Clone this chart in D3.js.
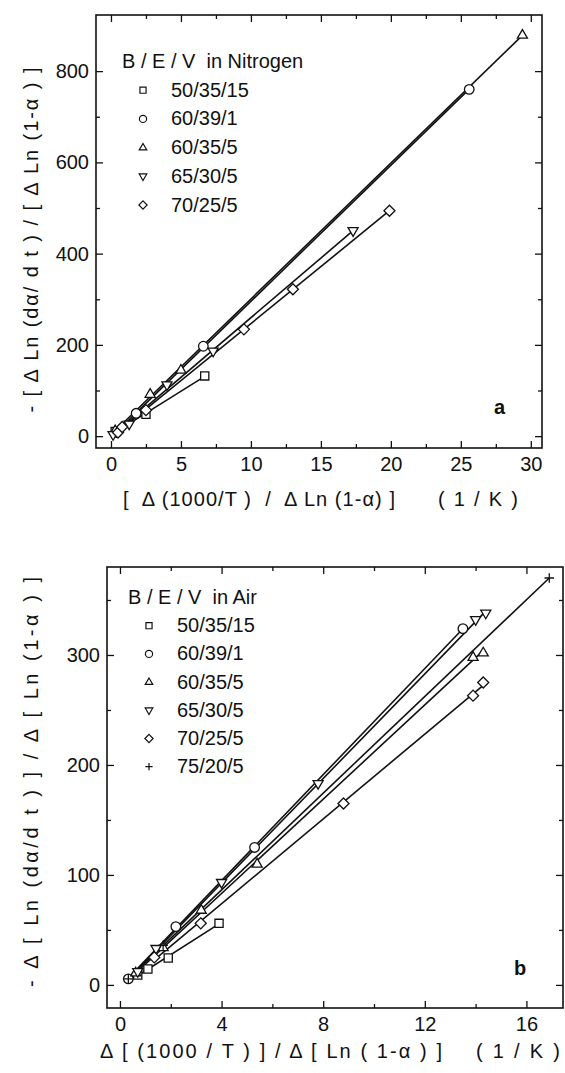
<!DOCTYPE html>
<html>
<head>
<meta charset="utf-8">
<script src="https://cdn.jsdelivr.net/npm/d3@7"></script>
<style>
  body { margin: 0; background: #fff; }
  text { font-family: "Liberation Sans", Arial, sans-serif; fill: #111; white-space: pre; }
</style>
</head>
<body>
<svg id="fig" width="565" height="1073"></svg>
<script>
// series names and marker shapes (same order in both panels)
const seriesLabels = ['50/35/15', '60/39/1', '60/35/5', '65/30/5', '70/25/5', '75/20/5'];
const seriesShapes = ['square', 'circle', 'triangle', 'triangleDown', 'diamond', 'plus'];

// panel a - in Nitrogen  [x, y]
const n503515 = [[0.3, 10], [2.5, 48], [6.7, 132]];
const n60391  = [[0.4, 8], [1.8, 50], [6.6, 197], [25.6, 760]];
const n60355  = [[0.3, 12], [2.8, 92], [5.0, 145], [29.4, 879]];
const n65305  = [[0.15, 3], [1.3, 26], [4.0, 112], [7.3, 186], [17.3, 450]];
const n70255  = [[0.5, 8], [0.8, 20], [2.5, 57], [9.5, 234], [13.0, 322], [19.9, 494]];

// panel b - in Air
const a503515 = [[0.7, 9], [1.1, 14.5], [1.9, 24.5], [3.9, 56]];
const a60391  = [[0.33, 5.5], [2.2, 53], [5.3, 125], [13.5, 324]];
const a60355  = [[0.62, 11], [1.7, 34], [3.2, 68], [5.4, 110], [13.9, 298], [14.3, 302]];
const a65305  = [[0.7, 12], [1.42, 33], [4.0, 93], [7.8, 183], [14.0, 332], [14.4, 338]];
const a70255  = [[1.35, 25], [3.18, 56], [8.8, 165], [13.9, 263], [14.3, 275]];
const a75205  = [[0.33, 5.5], [1.7, 36], [16.9, 370]];

// ticks
const xTicksA = [0, 5, 10, 15, 20, 25, 30];
const xMinorA = [2.5, 7.5, 12.5, 17.5, 22.5, 27.5];
const yTicksA = [0, 200, 400, 600, 800];
const yMinorA = [100, 300, 500, 700];
const xTicksB = [0, 4, 8, 12, 16];
const xMinorB = [2, 6, 10, 14];
const yTicksB = [0, 100, 200, 300];
const yMinorB = [50, 150, 250, 350];

const FS = 20;
const svg = d3.select('#fig');

// marker path for a shape, r ~ half size
function shapePath(type, r) {
  const p = d3.path();
  if (type === 'square') {
    p.rect(-r * 0.85, -r * 0.85, r * 1.7, r * 1.7);
  } else if (type === 'circle') {
    p.moveTo(r, 0); p.arc(0, 0, r, 0, Math.PI * 2);
  } else if (type === 'triangle') {
    p.moveTo(0, -r * 1.15); p.lineTo(r * 1.05, r * 0.65); p.lineTo(-r * 1.05, r * 0.65); p.closePath();
  } else if (type === 'triangleDown') {
    p.moveTo(0, r * 1.15); p.lineTo(r * 1.05, -r * 0.65); p.lineTo(-r * 1.05, -r * 0.65); p.closePath();
  } else if (type === 'diamond') {
    p.moveTo(0, -r * 1.15); p.lineTo(r * 1.15, 0); p.lineTo(0, r * 1.15); p.lineTo(-r * 1.15, 0); p.closePath();
  } else if (type === 'plus') {
    p.moveTo(-r, 0); p.lineTo(r, 0); p.moveTo(0, -r); p.lineTo(0, r);
  }
  return p.toString();
}

// least squares line over the series x range
function fitLine(pts) {
  const mx = d3.mean(pts, d => d[0]), my = d3.mean(pts, d => d[1]);
  const sxy = d3.sum(pts, d => (d[0] - mx) * (d[1] - my));
  const sxx = d3.sum(pts, d => (d[0] - mx) * (d[0] - mx));
  const b = sxy / sxx, a = my - b * mx;
  const x0 = d3.min(pts, d => d[0]), x1 = d3.max(pts, d => d[0]);
  return [[x0, a + b * x0], [x1, a + b * x1]];
}

function drawPanel(o) {
  const g = svg.append('g').attr('transform', 'translate(' + o.left + ',' + o.top + ')');
  const x = d3.scaleLinear().domain(o.xDomain).range([0, o.width]);
  const y = d3.scaleLinear().domain(o.yDomain).range([o.height, 0]);
  const yMin = o.yMinor.filter(v => v < o.yDomain[1]);

  // axes, ticks inside, mirrored on top and right
  const axes = [
    [d3.axisBottom(x).tickValues(o.xTicks).tickSize(-7).tickPadding(9), 'translate(0,' + o.height + ')'],
    [d3.axisBottom(x).tickValues(o.xMinor).tickSize(-4).tickFormat(''), 'translate(0,' + o.height + ')'],
    [d3.axisTop(x).tickValues(o.xTicks).tickSize(-7).tickFormat(''), null],
    [d3.axisTop(x).tickValues(o.xMinor).tickSize(-4).tickFormat(''), null],
    [d3.axisLeft(y).tickValues(o.yTicks).tickSize(-7).tickPadding(7), null],
    [d3.axisLeft(y).tickValues(yMin).tickSize(-4).tickFormat(''), null],
    [d3.axisRight(y).tickValues(o.yTicks).tickSize(-7).tickFormat(''), 'translate(' + o.width + ',0)'],
    [d3.axisRight(y).tickValues(yMin).tickSize(-4).tickFormat(''), 'translate(' + o.width + ',0)']
  ];
  axes.forEach(([ax, tr]) => {
    const a = g.append('g').call(ax);
    if (tr) a.attr('transform', tr);
    a.select('.domain').remove();
    a.selectAll('line').attr('stroke', '#111').attr('stroke-width', 1.3);
    a.selectAll('text').attr('font-size', FS).attr('font-family', '"Liberation Sans", Arial, sans-serif').attr('fill', '#111');
  });

  g.append('rect')
    .attr('width', o.width).attr('height', o.height)
    .attr('fill', 'none').attr('stroke', '#111').attr('stroke-width', 1.6);

  // fit lines
  o.series.forEach(s => {
    const ln = fitLine(s.pts);
    g.append('line')
      .attr('x1', x(ln[0][0])).attr('y1', y(ln[0][1]))
      .attr('x2', x(ln[1][0])).attr('y2', y(ln[1][1]))
      .attr('stroke', '#111').attr('stroke-width', 1.6);
  });

  // markers
  o.series.forEach(s => {
    g.selectAll(null).data(s.pts).enter().append('path')
      .attr('transform', d => 'translate(' + x(d[0]) + ',' + y(d[1]) + ')')
      .attr('d', shapePath(s.shape, 4.8))
      .attr('fill', s.shape === 'plus' ? 'none' : '#fff')
      .attr('stroke', '#111').attr('stroke-width', 1.3);
  });

  // legend
  const lg = svg.append('g');
  lg.append('text').attr('x', o.legX).attr('y', o.legY).attr('font-size', FS).text(o.legTitle);
  o.series.forEach((s, i) => {
    const yy = o.legY + o.legStep * (i + 1);
    lg.append('path')
      .attr('transform', 'translate(' + (o.legX + 21) + ',' + (yy - 6.5) + ')')
      .attr('d', shapePath(s.shape, 3.6))
      .attr('fill', s.shape === 'plus' ? 'none' : '#fff')
      .attr('stroke', '#111').attr('stroke-width', 1.2);
    lg.append('text').attr('x', o.legX + 49).attr('y', yy).attr('font-size', FS).text(s.label);
  });

  // panel letter
  svg.append('text').attr('x', o.letterX).attr('y', o.letterY)
    .attr('font-size', FS).attr('font-weight', 'bold').text(o.letter);

  // axis titles: main part + unit
  svg.append('text').attr('x', o.xTitleX).attr('y', o.xTitleY)
    .attr('font-size', FS).attr('textLength', o.xTitleLen).attr('lengthAdjust', 'spacing')
    .text(o.xTitle);
  svg.append('text').attr('x', o.unitX).attr('y', o.xTitleY)
    .attr('font-size', FS).attr('textLength', o.unitLen).attr('lengthAdjust', 'spacing')
    .text('( 1 / K )');
  svg.append('text')
    .attr('transform', 'translate(' + o.yTitleX + ',' + o.yTitleY + ') rotate(-90)')
    .attr('text-anchor', 'middle').attr('font-size', FS)
    .attr('textLength', o.yTitleLen).attr('lengthAdjust', 'spacing')
    .text(o.yTitle);
}

const nitrogenSets = [n503515, n60391, n60355, n65305, n70255];
const airSets = [a503515, a60391, a60355, a65305, a70255, a75205];

drawPanel({
  left: 96, top: 15, width: 446, height: 433,
  xDomain: [-1.07, 30.8], yDomain: [-26, 923],
  xTicks: xTicksA, xMinor: xMinorA, yTicks: yTicksA, yMinor: yMinorA,
  series: nitrogenSets.map((pts, i) => ({pts: pts, shape: seriesShapes[i], label: seriesLabels[i]})),
  legX: 122, legY: 68, legStep: 28.7, legTitle: 'B / E / V  in Nitrogen',
  letter: 'a', letterX: 494, letterY: 414,
  xTitle: '[  \u0394 (1000/T )  /  \u0394 Ln (1-\u03b1) ]', xTitleX: 123, xTitleY: 506, xTitleLen: 272,
  unitX: 438, unitLen: 80,
  yTitle: '- [ \u0394 Ln (d\u03b1/ d t ) / [ \u0394 Ln (1-\u03b1 ) ]', yTitleX: 38, yTitleY: 240, yTitleLen: 345
});

drawPanel({
  left: 107, top: 567, width: 456, height: 441,
  xDomain: [-0.51, 17.44], yDomain: [-21, 380],
  xTicks: xTicksB, xMinor: xMinorB, yTicks: yTicksB, yMinor: yMinorB,
  series: airSets.map((pts, i) => ({pts: pts, shape: seriesShapes[i], label: seriesLabels[i]})),
  legX: 128, legY: 604, legStep: 28.2, legTitle: 'B / E / V  in Air',
  letter: 'b', letterX: 514, letterY: 975,
  xTitle: '\u0394 [ (1000 / T ) ] / \u0394 [ Ln ( 1-\u03b1 ) ]', xTitleX: 100, xTitleY: 1058, xTitleLen: 342,
  unitX: 476, unitLen: 84,
  yTitle: '- \u0394 [ Ln (d\u03b1/d t ) ] / \u0394 [ Ln (1-\u03b1 ) ]', yTitleX: 38, yTitleY: 782, yTitleLen: 410
});
</script>
</body>
</html>
